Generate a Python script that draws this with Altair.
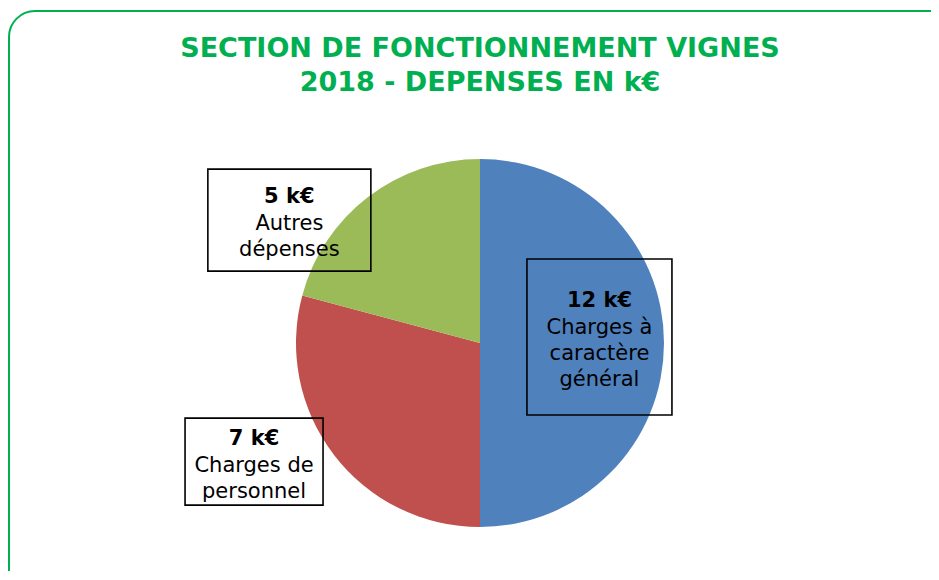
import altair as alt
import pandas as pd

# ---- data ----
CATEGORIES = ["Charges à caractère général", "Charges de personnel", "Autres dépenses"]
VALUES = [12, 7, 5]
VALUE_LABELS = ["12 k€", "7 k€", "5 k€"]
LABEL_LINES = [["Charges à", "caractère", "général"], ["Charges de", "personnel"], ["Autres", "dépenses"]]
TITLE_LINES = ["SECTION DE FONCTIONNEMENT VIGNES", "2018 - DEPENSES EN k€"]

# ---- style / layout ----
COLORS = ["#4F81BD", "#C0504D", "#9BBB59"]
GREEN = "#00B050"
FONT = "DejaVu Sans"
W, H = 923, 563
CX, CY, R = 472, 335, 184
# per label: distance from pie centre, angle shift from slice mid (deg), box w, box h
LAYOUT = {
    "Charges à caractère général": (119.6, -2.9, 145, 156),
    "Charges de personnel": (255.2, 9.8, 138, 87),
    "Autres dépenses": (226.8, -19.7, 163, 102),
}
LINE_H = 26

df = pd.DataFrame({
    "cat": CATEGORIES,
    "value": VALUES,
    "vlabel": VALUE_LABELS,
    "lines": ["\n".join(l) for l in LABEL_LINES],
    "nlines": [len(l) for l in LABEL_LINES],
    "ord": list(range(len(CATEGORIES))),
})

frame = alt.Chart(pd.DataFrame({"a": [0]})).mark_rect(
    fill=None, stroke=GREEN, strokeWidth=2, cornerRadius=26
).encode(x=alt.value(1), x2=alt.value(960), y=alt.value(3), y2=alt.value(590))

title = alt.Chart(pd.DataFrame({"t": ["\n".join(TITLE_LINES)]})).mark_text(
    font=FONT, fontSize=27, fontWeight="bold", color=GREEN, lineBreak="\n",
    lineHeight=33.5, align="center", baseline="middle"
).encode(text="t:N", x=alt.value(CX), y=alt.value(41))

pie = alt.Chart(df).mark_arc(outerRadius=R).encode(
    theta=alt.Theta("value:Q", stack=True),
    color=alt.Color("cat:N", scale=alt.Scale(domain=CATEGORIES, range=COLORS), legend=None),
    order=alt.Order("ord:Q"),
    x=alt.value(CX), y=alt.value(CY),
)

lab = alt.Chart(df).transform_window(
    cum="sum(value)", sort=[alt.SortField("ord")]
).transform_joinaggregate(total="sum(value)").transform_calculate(
    mid="(datum.cum - datum.value/2) / datum.total * 2 * PI"
)

layers = [frame, title, pie]
for cat, (dist, shift, bw, bh) in LAYOUT.items():
    b = lab.transform_filter(alt.datum.cat == cat).transform_calculate(
        ang=f"datum.mid + {shift} * PI / 180"
    ).transform_calculate(
        cx=f"{CX} + {dist} * sin(datum.ang)",
        cy=f"{CY} - {dist} * cos(datum.ang)",
    ).transform_calculate(
        bx1=f"datum.cx - {bw/2}", bx2=f"datum.cx + {bw/2}",
        by1=f"datum.cy - {bh/2}", by2=f"datum.cy + {bh/2}",
        yb=f"datum.cy + 3 - datum.nlines * {LINE_H/2}",
    ).transform_calculate(
        yn=f"datum.yb + {LINE_H + 1}",
    )
    box = b.mark_rect(fill=None, stroke="black", strokeWidth=1.6).encode(
        x=alt.X("bx1:Q", scale=None, axis=None), x2="bx2:Q",
        y=alt.Y("by1:Q", scale=None, axis=None), y2="by2:Q",
    )
    vtxt = b.mark_text(font=FONT, fontSize=21, fontWeight="bold", color="black",
                       align="center", baseline="middle").encode(
        x=alt.X("cx:Q", scale=None, axis=None), y=alt.Y("yb:Q", scale=None, axis=None), text="vlabel:N")
    ltxt = b.mark_text(font=FONT, fontSize=21, color="black", lineBreak="\n",
                       lineHeight=LINE_H, align="center", baseline="middle").encode(
        x=alt.X("cx:Q", scale=None, axis=None), y=alt.Y("yn:Q", scale=None, axis=None), text="lines:N")
    layers += [box, vtxt, ltxt]

chart = alt.layer(*layers).properties(
    width=W, height=H, padding=0, autosize=alt.AutoSizeParams(type="none")
).configure_view(stroke=None)

chart.save("out.html", embed_options={"renderer": "svg", "actions": False})
